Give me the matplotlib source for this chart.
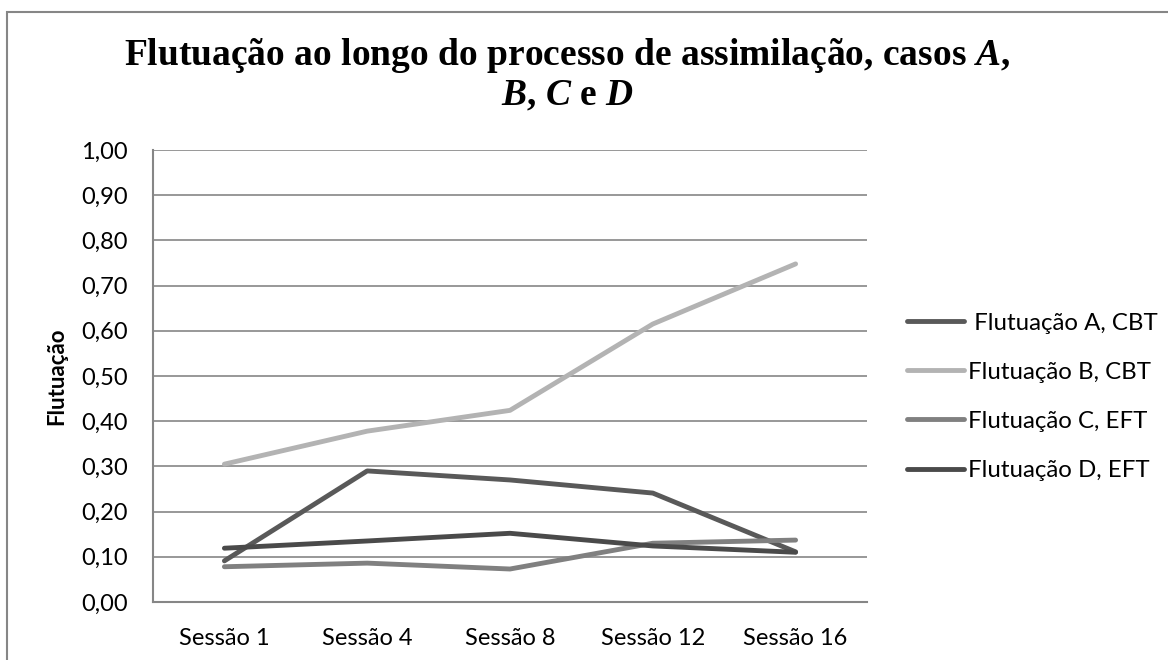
import matplotlib
matplotlib.use("Agg")
import matplotlib.pyplot as plt
from matplotlib.patches import Rectangle

sessoes = ["Sessão 1", "Sessão 4", "Sessão 8", "Sessão 12", "Sessão 16"]

flut_a = [0.091, 0.290, 0.270, 0.241, 0.111]
flut_b = [0.305, 0.378, 0.424, 0.615, 0.748]
flut_c = [0.078, 0.086, 0.073, 0.130, 0.137]
flut_d = [0.119, 0.135, 0.152, 0.124, 0.110]

labels = [" Flutuação A, CBT", "Flutuação B, CBT", "Flutuação C, EFT", "Flutuação D, EFT"]
cores = ["#595959", "#b3b3b3", "#808080", "#4a4a4a"]
yticks = [0.0, 0.1, 0.2, 0.3, 0.4, 0.5, 0.6, 0.7, 0.8, 0.9, 1.0]

plt.rcParams["font.family"] = ["Lato", "DejaVu Sans"]
plt.rcParams["mathtext.fontset"] = "custom"
plt.rcParams["mathtext.bfit"] = "Liberation Serif:italic:bold"
plt.rcParams["mathtext.it"] = "Liberation Serif:italic:bold"

W, H = 1168, 660
fig = plt.figure(figsize=(W / 100, H / 100), dpi=100)
ax = fig.add_axes([153 / W, 1 - 602 / H, (867 - 153) / W, (602 - 150) / H])

grid_c = "#868686"
x = range(len(sessoes))
for serie, cor, lab in zip([flut_a, flut_b, flut_c, flut_d], cores, labels):
    ax.plot(x, serie, color=cor, lw=3.5, label=lab, solid_capstyle="round",
            solid_joinstyle="round")

ax.set_xlim(-0.5, len(sessoes) - 0.5)
ax.set_ylim(0, 1.0)
ax.set_yticks(yticks)
ax.set_yticklabels([f"{v:.2f}".replace(".", ",") for v in yticks])
ax.set_xticks(list(x))
ax.set_xticklabels(sessoes)
ax.tick_params(axis="both", length=0, labelsize=17, colors="black")
ax.tick_params(axis="y", pad=18)
ax.tick_params(axis="x", pad=19)
ax.yaxis.grid(True, color=grid_c, lw=1.2)
ax.set_axisbelow(True)
for s in ["top", "right"]:
    ax.spines[s].set_visible(False)
for s in ["left", "bottom"]:
    ax.spines[s].set_color(grid_c)
    ax.spines[s].set_linewidth(1.5)

fig.text(57 / W, 1 - 376 / H, "Flutuação", rotation=90, ha="center", va="center",
         fontsize=16, fontweight="bold")

fig.text(567 / W, 1 - 36 / H,
         "Flutuação ao longo do processo de assimilação, casos $\\mathit{A}$,\n"
         "$\\mathit{B}$, $\\mathit{C}$ e $\\mathit{D}$",
         ha="center", va="top", fontsize=27, fontweight="bold",
         family="Liberation Serif", linespacing=1.12, multialignment="center")

leg = fig.legend(loc="upper left", bbox_to_anchor=(885 / W, 1 - 291 / H),
                 frameon=False, fontsize=17.3, handlelength=2.4,
                 handletextpad=0.15, labelspacing=1.17)

fig.patches.append(Rectangle((7 / W, -0.1), 1.2, 1 - 12 / H + 0.1, transform=fig.transFigure,
                             fill=False, edgecolor=grid_c, lw=1.5))

fig.savefig("out.png", dpi=100)
